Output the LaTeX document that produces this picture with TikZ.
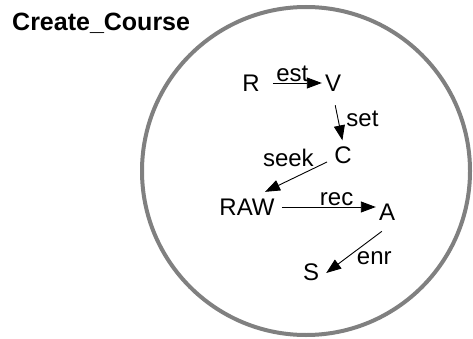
\documentclass[tikz,border=0pt]{standalone}
\usepackage{fontspec}
\setmainfont{Liberation Sans}
\usetikzlibrary{arrows.meta}

\definecolor{framegray}{RGB}{128,128,128}

\begin{document}
\begin{tikzpicture}[
    x=1pt, y=-1pt,
    state/.style={inner sep=3pt, font=\fontsize{24}{28}\selectfont},
    trans/.style={-{Triangle[length=15pt, width=11pt]}, line width=0.9pt},
    lbl/.style={inner sep=1pt, font=\fontsize{24}{28}\selectfont}
]
\useasboundingbox (0,0) rectangle (473,339);

% Enclosing circle and title
\node[circle, draw=framegray, line width=4pt, inner sep=0pt, minimum size=328pt] (course) at (306,171) {};
\node[anchor=base west, inner sep=0pt, font=\fontsize{25}{30}\selectfont\bfseries] (title) at (12,31) {Create\_Course};

% States
\node[state] (R) at (251,83) {R};
\node[state] (V) at (333,83) {V};
\node[state] (C) at (343,155) {C};
\node[state] (RAW) at (247,207) {RAW};
\node[state] (A) at (387,212) {A};
\node[state] (S) at (311,272) {S};

% Transitions
\draw[trans, shorten <=10pt] (R) -- node[lbl, above, pos=0.5] {est} (V);
\draw[trans, shorten <=11pt, shorten >=3pt] (V.south) -- node[lbl, right=7pt, pos=0.5] {set} (C.north);
\draw[trans, shorten <=4.5pt, shorten >=20pt] ([yshift=-5pt]C.west) -- node[lbl, above left, pos=0.19] {seek} ([yshift=-5pt]RAW.north);
\draw[trans, shorten <=4pt] (RAW) -- node[lbl, above, pos=0.6] {rec} (RAW -| A.west);
\draw[trans, shorten <=6.5pt, shorten >=5pt] ([yshift=-4pt]A.south) -- node[lbl, right=10pt, pos=0.64] {enr} ([yshift=-4pt]S.east);

\end{tikzpicture}
\end{document}
